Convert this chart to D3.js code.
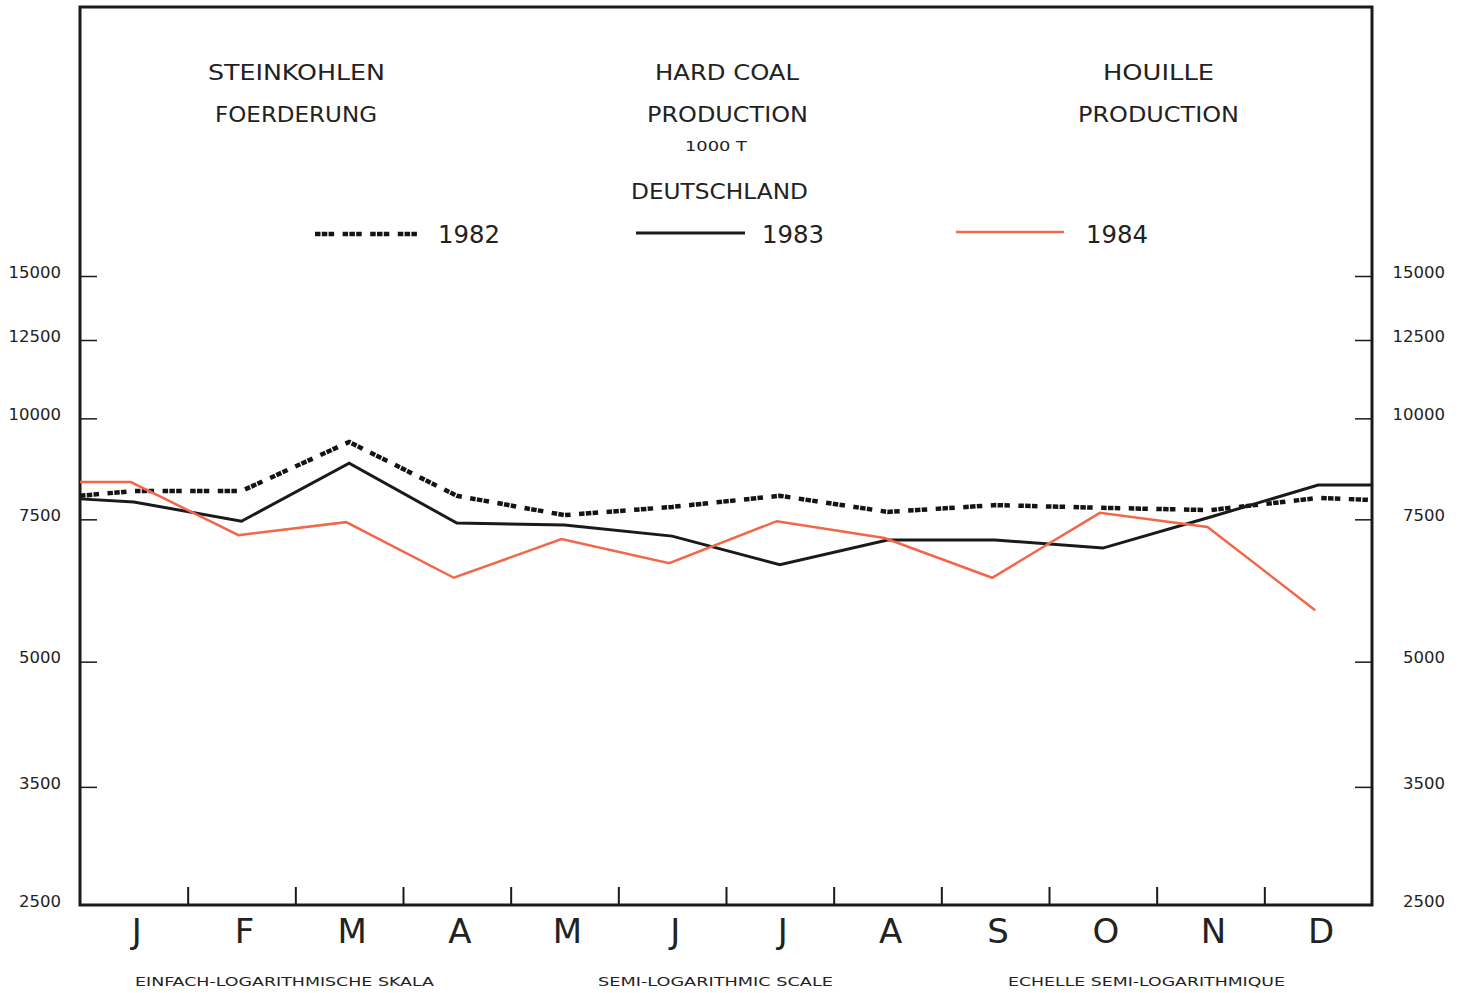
<!DOCTYPE html>
<html>
<head>
<meta charset="utf-8">
<script src="https://cdn.jsdelivr.net/npm/d3@7"></script>
<style>
  html, body { margin: 0; padding: 0; background: #ffffff; }
  svg { display: block; }
  text { font-family: "DejaVu Sans", sans-serif; fill: #222; }
</style>
</head>
<body>
<svg id="chart" width="1466" height="993"></svg>
<script>
// ---- data ----
const months = ["J","F","M","A","M","J","J","A","S","O","N","D"];
const yTicks = [2500, 3500, 5000, 7500, 10000, 12500, 15000];
const years = ["1982", "1983", "1984"];
// monthly values (1000 t)
const v1982 = [8130, 8130, 9350, 8020, 7590, 7770, 8020, 7660, 7810, 7750, 7700, 7970];
const v1983 = [7880, 7460, 8800, 7420, 7380, 7150, 6590, 7070, 7070, 6910, 7550, 8270];
const v1984 = [8340, 7170, 7440, 6350, 7090, 6620, 7460, 7110, 6350, 7640, 7340, 5790];
// values where the lines meet the left / right frame
const edgeStart = [8020, 7950, 8340];
const edgeEnd   = [7925, 8270, null];

const titleDE = ["STEINKOHLEN", "FOERDERUNG"];
const titleEN = ["HARD COAL", "PRODUCTION"];
const titleFR = ["HOUILLE", "PRODUCTION"];
const unitLabel = "1000 T";
const countryLabel = "DEUTSCHLAND";
const scaleNotes = ["EINFACH-LOGARITHMISCHE SKALA", "SEMI-LOGARITHMIC SCALE", "ECHELLE SEMI-LOGARITHMIQUE"];

// ---- layout ----
const svg = d3.select("#chart");
const L = 80, R = 1372, T = 7, B = 905;
const ink = "#1a1a1a";

const y = d3.scaleLog().domain([2500, 15000]).range([B, 276]);
const xi = d3.scaleLinear().domain([-0.5, 11.5]).range([L, R]);
const xb = d3.scaleBand().domain(d3.range(12)).range([L, R]);

// frame
svg.append("rect").attr("x", L).attr("y", T).attr("width", R - L).attr("height", B - T)
  .attr("fill", "none").attr("stroke", ink).attr("stroke-width", 3);

// left axis
const gl = svg.append("g").attr("transform", `translate(${L},0)`)
  .call(d3.axisLeft(y).tickValues(yTicks).tickFormat(d3.format("d"))
    .tickSizeInner(-17).tickSizeOuter(0).tickPadding(19));
// right axis
const gr = svg.append("g").attr("transform", `translate(${R},0)`)
  .call(d3.axisRight(y).tickValues(yTicks).tickFormat(d3.format("d"))
    .tickSizeInner(-17).tickSizeOuter(0).tickPadding(73));
[gl, gr].forEach(g => {
  g.select(".domain").remove();
  g.selectAll(".tick line").attr("stroke", ink).attr("stroke-width", 1.5);
  g.selectAll(".tick").filter(d => d === 2500).select("line").remove();
  g.selectAll(".tick text").attr("font-size", 16.5).attr("fill", "#333")
    .attr("dy", "0.08em").style("font-family", "DejaVu Sans, sans-serif");
});
gr.selectAll(".tick text").attr("text-anchor", "end");

// bottom month boundary ticks
const gb = svg.append("g").attr("transform", `translate(0,${B})`)
  .call(d3.axisBottom(xi).tickValues(d3.range(0.5, 11, 1)).tickFormat("")
    .tickSizeInner(-18).tickSizeOuter(0));
gb.select(".domain").remove();
gb.selectAll(".tick line").attr("stroke", ink).attr("stroke-width", 2);

// month labels
const gm = svg.append("g").attr("transform", `translate(3,${B})`)
  .call(d3.axisBottom(xb).tickFormat(i => months[i]).tickSize(0).tickPadding(14));
gm.select(".domain").remove();
gm.selectAll(".tick text").attr("font-size", 34).attr("fill", "#222")
  .style("font-family", "DejaVu Sans, sans-serif");

// ---- series ----
const series = [
  { key: years[0], vals: v1982, start: edgeStart[0], end: edgeEnd[0], color: "#141414", width: 4.5, dash: "5.5,1.3,5.5,1.3,5.5,8.5", dx: 0 },
  { key: years[1], vals: v1983, start: edgeStart[1], end: edgeEnd[1], color: "#1a1a1a", width: 3, dash: null, dx: 0 },
  { key: years[2], vals: v1984, start: edgeStart[2], end: edgeEnd[2], color: "#f2674a", width: 2.5, dash: null, dx: -3 }
];

series.forEach(s => {
  const pts = [];
  if (s.start != null) pts.push([-0.5, s.start]);
  s.vals.forEach((v, i) => pts.push([i, v]));
  if (s.end != null) pts.push([11.5, s.end]);
  const line = d3.line().x(d => xi(d[0]) + (d[0] < 0 ? 0 : s.dx)).y(d => y(d[1]));
  svg.append("path").datum(pts)
    .attr("d", line)
    .attr("fill", "none")
    .attr("stroke", s.color)
    .attr("stroke-width", s.width)
    .attr("stroke-linejoin", "miter")
    .attr("stroke-dasharray", s.dash);
});

// ---- texts ----
function txt(str, x, yb, size, len, anchor) {
  const t = svg.append("text").attr("x", x).attr("y", yb).attr("font-size", size).text(str);
  if (anchor) t.attr("text-anchor", anchor);
  if (len) t.attr("textLength", len).attr("lengthAdjust", "spacingAndGlyphs");
  return t;
}
txt(titleDE[0], 208, 80, 22, 177);
txt(titleDE[1], 215, 122, 22, 162);
txt(titleEN[0], 655, 80, 22, 144);
txt(titleEN[1], 647, 122, 22, 161);
txt(unitLabel, 685, 151, 14, 62);
txt(countryLabel, 631, 199, 22, 177);
txt(titleFR[0], 1103, 80, 22, 111);
txt(titleFR[1], 1078, 122, 22, 161);

// legend
const legend = [
  { s: series[0], x0: 315, x1: 420, ly: 234, tx: 438 },
  { s: series[1], x0: 636, x1: 745, ly: 233, tx: 762 },
  { s: series[2], x0: 956, x1: 1064, ly: 232, tx: 1086 }
];
legend.forEach(l => {
  svg.append("line").attr("x1", l.x0).attr("x2", l.x1).attr("y1", l.ly).attr("y2", l.ly)
    .attr("stroke", l.s.color).attr("stroke-width", l.s.width)
    .attr("stroke-dasharray", l.s.dash);
  txt(l.s.key, l.tx, 243, 25, 62).attr("fill", "#333");
});

// scale notes
txt(scaleNotes[0], 135, 986, 12.5, 299);
txt(scaleNotes[1], 598, 986, 12.5, 235);
txt(scaleNotes[2], 1008, 986, 12.5, 277);
</script>
</body>
</html>
